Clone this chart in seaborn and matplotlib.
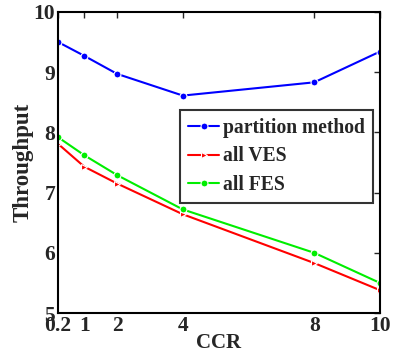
import pandas as pd
import numpy as np
import matplotlib.pyplot as plt
import seaborn as sns

ccr = [0.2, 1, 2, 4, 8, 10]
partition = [9.50, 9.27, 8.97, 8.61, 8.83, 9.34]
all_ves = [7.81, 7.43, 7.15, 6.64, 5.83, 5.38]
all_fes = [7.92, 7.62, 7.29, 6.72, 6.00, 5.50]
methods = ["partition method", "all VES", "all FES"]

df = pd.DataFrame({
    "CCR": ccr * 3,
    "Throughput": partition + all_ves + all_fes,
    "method": np.repeat(methods, len(ccr)),
})

sns.set_style("white")
plt.rcParams["font.family"] = ["Liberation Serif", "DejaVu Serif"]
plt.rcParams["font.weight"] = "bold"

fig = plt.figure(figsize=(3.97, 3.59), dpi=100)
ax = fig.add_axes([0.146, 0.128, 0.811, 0.839])

sns.lineplot(data=df, x="CCR", y="Throughput", hue="method", style="method",
             palette=["#0000ff", "#ff0000", "#00ee00"],
             markers=["o", ">", "o"], dashes=False, markersize=5,
             markeredgewidth=0.8, lw=1.5, ax=ax)

ax.set_xlim(0.2, 10)
ax.set_ylim(5, 10)
ax.set_xticks(ccr)
ax.set_xticklabels(["0.2", "1", "2", "4", "8", "10"])
ax.set_yticks([5, 6, 7, 8, 9, 10])
ax.tick_params(direction="in", top=True, right=True, labelsize=15.5, length=4,
               width=1, pad=2)
for s in ax.spines.values():
    s.set_linewidth(1.5)
    s.set_color("black")
ax.set_xlabel("CCR", fontsize=15, fontweight="bold", labelpad=-2)
ax.set_ylabel("Throughput", fontsize=16.5, fontweight="bold", labelpad=0)

leg = ax.legend(loc="upper left", bbox_to_anchor=(0.38, 0.675), fontsize=14.1,
                frameon=True, fancybox=False, edgecolor="black",
                handlelength=1.6, handletextpad=0.2, borderpad=0.4,
                labelspacing=0.45, borderaxespad=0)
leg.get_frame().set_linewidth(1.5)
for t in leg.get_texts():
    t.set_fontweight("bold")

plt.savefig("out.png", dpi=100)
